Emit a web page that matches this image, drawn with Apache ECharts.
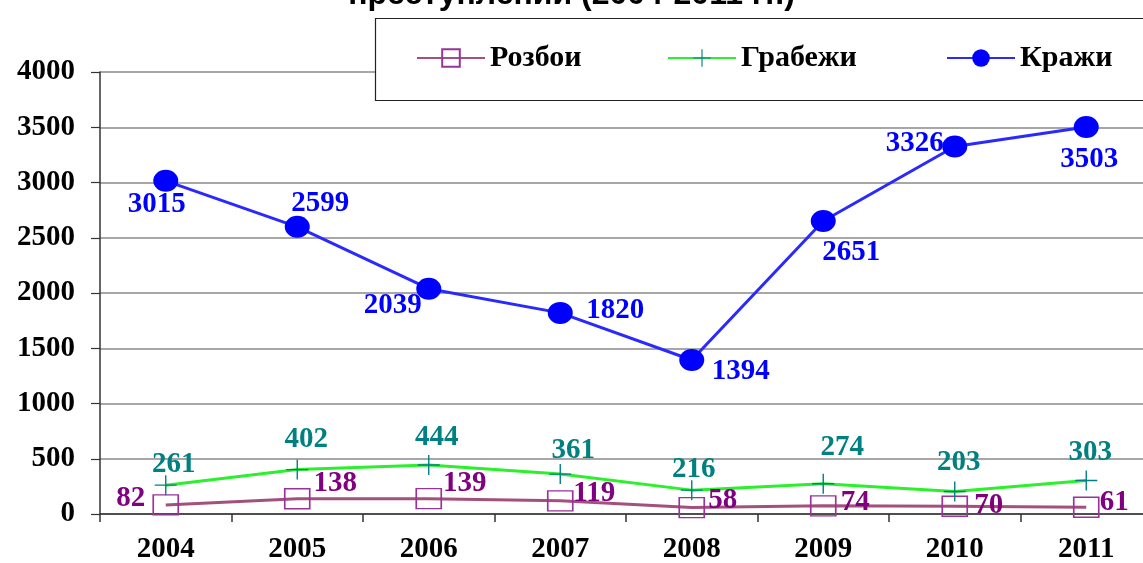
<!DOCTYPE html>
<html>
<head>
<meta charset="utf-8">
<script src="https://cdn.jsdelivr.net/npm/echarts@6/dist/echarts.min.js"></script>
<style>
  html, body { margin: 0; padding: 0; background: #fff; }
  #chart { width: 1143px; height: 563px; }
</style>
</head>
<body>
<div id="chart"></div>
<script>
// данные
var years = ["2004", "2005", "2006", "2007", "2008", "2009", "2010", "2011"];
var razboi = [82, 138, 139, 119, 58, 74, 70, 61];
var grabezhi = [261, 402, 444, 361, 216, 274, 203, 303];
var krazhi = [3015, 2599, 2039, 1820, 1394, 2651, 3326, 3503];

// смещения подписей относительно точки (px)
var razboiOffsets = [[-35, -6], [38, -15], [36, -15], [34, -7], [31, -7], [32, -3], [34, -1], [28, -5]];
var grabezhiOffsets = [[8, -21], [9, -30], [8, -27], [13, -24], [2, -21], [19, -36], [4, -29], [4, -28]];
var krazhiOffsets = [[-9, 24], [23, -23], [-36, 17], [55, -2], [49, 12], [28, 31], [-40, -3], [3, 33]];

var serif = "'Liberation Serif', 'Times New Roman', serif";

function withOffsets(values, offsets) {
  return values.map(function (v, i) {
    return { value: v, label: { offset: offsets[i] } };
  });
}

function legendFor(name, left) {
  return {
    z: 10,
    data: [name],
    left: left,
    top: 43,
    padding: 0,
    itemGap: 0,
    itemWidth: 68,
    itemHeight: 22,
    textStyle: { fontFamily: serif, fontWeight: "bold", fontSize: 30, color: "#000" }
  };
}

var chart = echarts.init(document.getElementById("chart"));
var option = {
  animation: false,
  backgroundColor: "#fff",
  grid: { left: 100, top: 72, bottom: 49, width: 1052, outerBoundsMode: "none", containLabel: false },
  graphic: [
    {
      type: "text",
      left: "center",
      top: -21,
      style: {
        text: "преступлений (2004-2011 гг.)",
        font: "bold 32px 'Liberation Sans', Arial, sans-serif",
        fill: "#000"
      }
    },
    {
      type: "rect",
      z: 3,
      shape: { x: 375.5, y: 18.5, width: 800, height: 82 },
      style: { fill: "#fff", stroke: "#222", lineWidth: 1.2 }
    }
  ],
  legend: [
    legendFor("Розбои", 416),
    legendFor("Грабежи", 667),
    legendFor("Кражи", 946)
  ],
  xAxis: {
    type: "category",
    data: years,
    axisLine: { lineStyle: { color: "#333", width: 1.5 } },
    axisTick: { show: true, length: 8, lineStyle: { color: "#333", width: 1.5 } },
    axisLabel: { margin: 21, fontFamily: serif, fontWeight: "bold", fontSize: 29, color: "#000" },
    splitLine: { show: false }
  },
  yAxis: {
    type: "value",
    min: 0,
    max: 4000,
    interval: 500,
    axisLine: { show: true, lineStyle: { color: "#333", width: 1.5 } },
    axisTick: { show: true, length: 9, lineStyle: { color: "#333", width: 1.2 } },
    axisLabel: {
      margin: 25, fontFamily: serif, fontWeight: "bold", fontSize: 29, color: "#000",
      formatter: function (v) { return String(v); }
    },
    splitLine: { lineStyle: { color: "#8a8a8a", width: 1.5 } }
  },
  series: [
    {
      name: "Розбои",
      type: "line",
      data: withOffsets(razboi, razboiOffsets),
      symbol: "rect",
      symbolSize: [25, 20],
      lineStyle: { color: "#a4507c", width: 3 },
      itemStyle: { color: "rgba(255,255,255,0)", borderColor: "#993399", borderWidth: 1.5 },
      label: {
        show: true, position: "inside", color: "#800080",
        fontFamily: serif, fontWeight: "bold", fontSize: 29
      }
    },
    {
      name: "Грабежи",
      type: "line",
      data: withOffsets(grabezhi, grabezhiOffsets),
      symbol: "path://M0,9.3H22V10.7H0Z M10.3,0H11.7V20H10.3Z",
      symbolSize: [22, 20],
      lineStyle: { color: "#2bf02b", width: 3 },
      itemStyle: { color: "#008080" },
      label: {
        show: true, position: "inside", color: "#008080",
        fontFamily: serif, fontWeight: "bold", fontSize: 29
      }
    },
    {
      name: "Кражи",
      type: "line",
      data: withOffsets(krazhi, krazhiOffsets),
      symbol: "circle",
      symbolSize: [25, 22],
      lineStyle: { color: "#2a2aff", width: 3 },
      itemStyle: { color: "#0000ff" },
      label: {
        show: true, position: "inside", color: "#0000ff",
        fontFamily: serif, fontWeight: "bold", fontSize: 29
      }
    }
  ]
};
chart.setOption(option);
</script>
</body>
</html>
